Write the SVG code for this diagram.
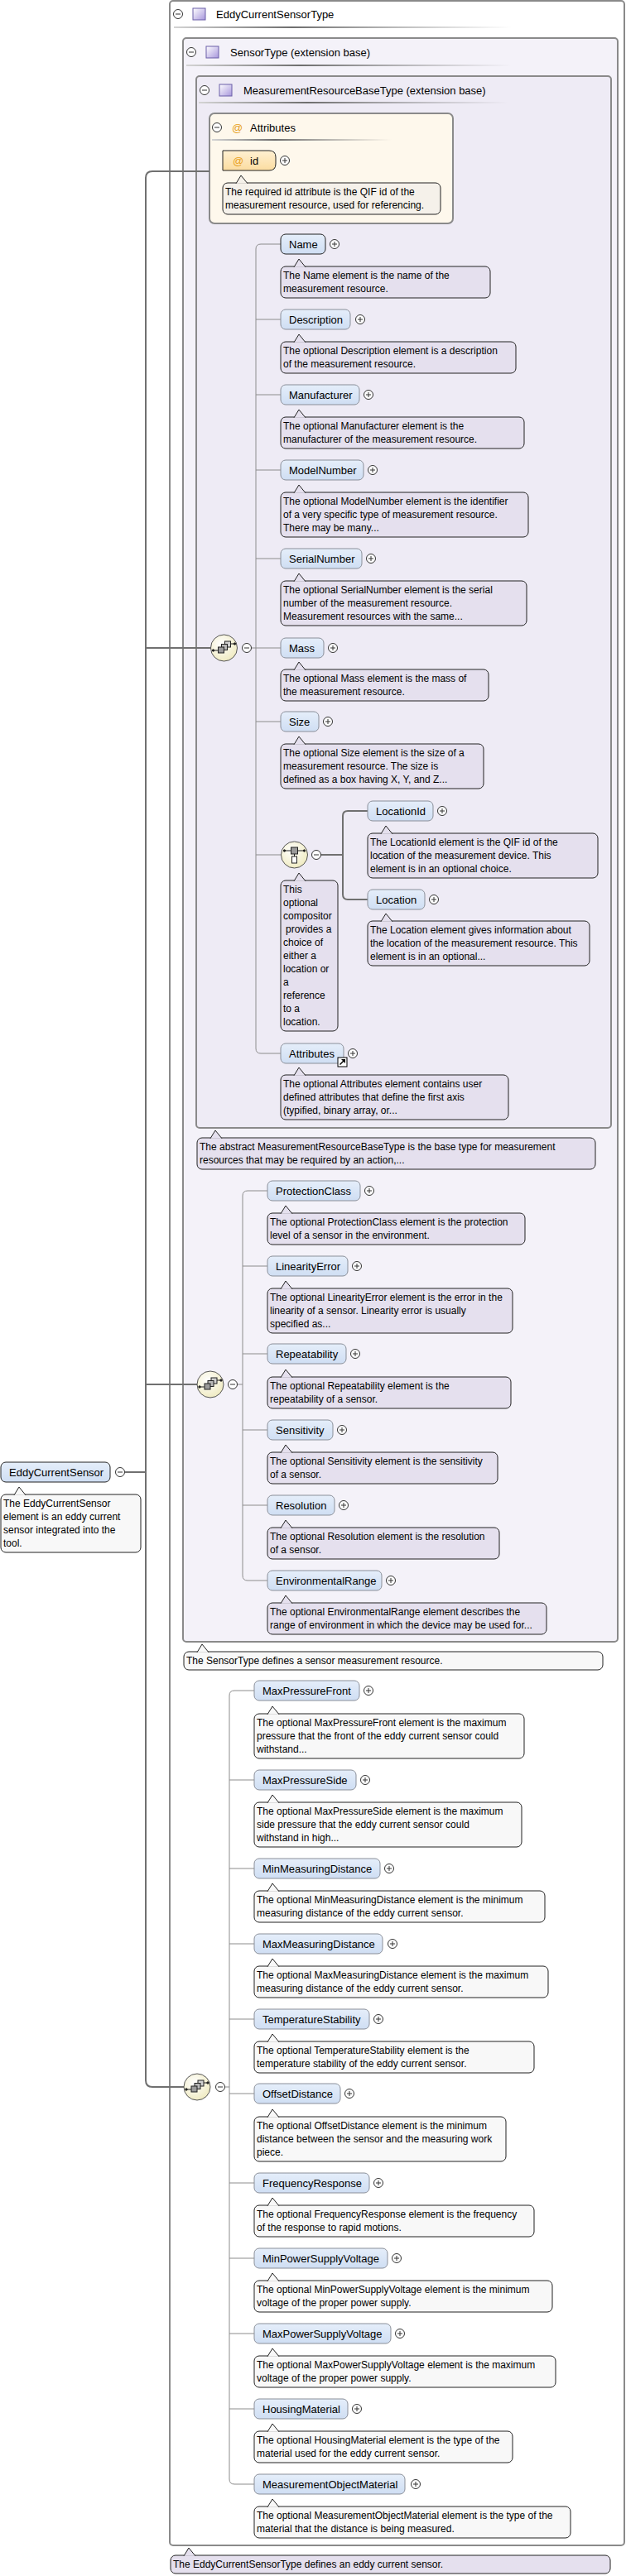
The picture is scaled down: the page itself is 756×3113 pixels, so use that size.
<svg xmlns="http://www.w3.org/2000/svg" width="756" height="3113" viewBox="0 0 756 3113">
<style>
.t{font-family:"Liberation Sans",Arial,sans-serif;font-size:13px;fill:#000;stroke:none}
.ct{font-family:"Liberation Sans",Arial,sans-serif;font-size:12px;fill:#000;stroke:none}
.at{font-family:"Liberation Sans",Arial,sans-serif;font-size:13px;fill:#e8a020;stroke:none}
.node rect{fill:url(#gNode);stroke:#8a8f99;stroke-width:1}
.node.req rect{stroke:#222}
.co{stroke:#222;stroke-width:1}
.L{fill:#e5e0ee}
.W{fill:#f8f8f8}
.C{fill:#f5f1ea}
.box{stroke:#8a8a8a;stroke-width:2}
.cn{fill:none;stroke:#8c8c8c;stroke-width:1}
.cnT{fill:none;stroke:#707070;stroke-width:2}
.comp{fill:url(#gComp);stroke:#555;stroke-width:1}
</style>
<defs>
<linearGradient id="gNode" x1="0" y1="0" x2="0" y2="1"><stop offset="0" stop-color="#e5eefa"/><stop offset="1" stop-color="#cfdef3"/></linearGradient>
<linearGradient id="gAttr" x1="0" y1="0" x2="0" y2="1"><stop offset="0" stop-color="#fff0d2"/><stop offset="1" stop-color="#fbdca0"/></linearGradient>
<linearGradient id="gHdr" x1="0" y1="0" x2="1" y2="0"><stop offset="0" stop-color="#d4d4d4"/><stop offset="0.35" stop-color="#6e6e6e"/><stop offset="1" stop-color="#8a8a8a" stop-opacity="0"/></linearGradient>
<radialGradient id="gComp" cx="0.4" cy="0.35" r="0.7"><stop offset="0" stop-color="#ffffff"/><stop offset="1" stop-color="#efeabf"/></radialGradient>
<linearGradient id="gIcon" x1="0" y1="0" x2="1" y2="1"><stop offset="0" stop-color="#ffffff"/><stop offset="1" stop-color="#a796dc"/></linearGradient>
<g id="plus"><circle r="5.5" fill="#fff" stroke="#333"/><path d="M-3,0H3M0,-3V3" stroke="#333"/></g>
<g id="minus"><circle r="5.5" fill="#fff" stroke="#333"/><path d="M-3,0H3" stroke="#333"/></g>
<path id="tail" d="M16,0.8L22,-9L30,0.8"/>
<rect id="typeIcon" width="15" height="14" fill="url(#gIcon)" stroke="#6b5fa8"/>
<g id="seqSym" stroke="#222" stroke-width="1">
<path d="M-13,3H-7M8,-5H13" fill="none"/>
<circle cx="-13" cy="3" r="1.2" fill="#222"/><circle cx="13" cy="-5" r="1.2" fill="#222"/>
<rect x="1" y="-8" width="7" height="7" fill="#d0d0d0"/>
<rect x="-3" y="-4.5" width="7" height="7" fill="#b8b8b8"/>
<rect x="-7" y="-1" width="7" height="7" fill="#9a9a9a"/>
</g>
<g id="choiceSym" stroke="#222" stroke-width="1">
<path d="M-12,-5H12M0,-1V2" fill="none"/>
<circle cx="-12" cy="-5" r="1.2" fill="#222"/><circle cx="12" cy="-5" r="1.2" fill="#222"/>
<rect x="-4" y="-9" width="8" height="8" fill="#9a9a9a"/>
<rect x="-3" y="2" width="6" height="8" fill="#fff"/>
</g>
</defs>

<!-- type boxes -->
<g id="EddyCurrentSensorType">
<rect class="box" x="205" y="1" width="549" height="3075" rx="4" fill="#ffffff"/>
<use href="#minus" x="215" y="17"/>
<use href="#typeIcon" x="233" y="10"/>
<text class="t" x="261" y="21.5">EddyCurrentSensorType</text>
<rect x="210" y="32" width="408" height="2" fill="url(#gHdr)"/>
</g>
<g id="SensorType">
<rect class="box" x="221" y="46" width="525" height="1938" rx="4" fill="#f4f2f9"/>
<use href="#minus" x="231" y="63"/>
<use href="#typeIcon" x="249" y="56"/>
<text class="t" x="278" y="67.5">SensorType (extension base)</text>
<rect x="225" y="78" width="393" height="2" fill="url(#gHdr)"/>
</g>
<g id="MeasurementResourceBaseType">
<rect class="box" x="237" y="92" width="501" height="1271" rx="4" fill="#eeebf5"/>
<use href="#minus" x="247" y="109"/>
<use href="#typeIcon" x="265" y="102"/>
<text class="t" x="294" y="113.5">MeasurementResourceBaseType (extension base)</text>
<rect x="240" y="123" width="374" height="2" fill="url(#gHdr)"/>
</g>
<g id="AttributesGroup">
<rect class="box" x="253" y="137" width="294" height="133" rx="6" fill="#fef8ec"/>
<use href="#minus" x="262" y="154"/>
<text class="at" x="280" y="158.5">@</text>
<text class="t" x="302" y="158.5">Attributes</text>
<rect x="256" y="168" width="217" height="2" fill="url(#gHdr)"/>
</g>

<!-- connectors -->
<g id="connectors">
<path class="cnT" d="M150.5,1779H176"/>
<path class="cnT" d="M253,207H184Q176,207 176,215V2514Q176,2522 184,2522H222"/>
<path class="cnT" d="M176,783H254.5"/>
<path class="cnT" d="M176,1673H238"/>
<path class="cn" d="M303.5,783H309"/>
<path class="cn" d="M339,295H315Q309,295 309,301V1267Q309,1273 315,1273H339"/>
<path class="cn" d="M309,386H339M309,477H339M309,568H339M309,675H339M309,783H339M309,872H339M309,1033H339"/>
<path class="cnT" d="M387.5,1033H414"/>
<path class="cnT" d="M444,980H420Q414,980 414,986V1081Q414,1087 420,1087H444"/>
<path class="cn" d="M286.5,1673H293"/>
<path class="cn" d="M323,1439H299Q293,1439 293,1445V1904Q293,1910 299,1910H323"/>
<path class="cn" d="M293,1530H323M293,1636H323M293,1728H323M293,1819H323"/>
<path class="cn" d="M271.5,2522H277"/>
<path class="cn" d="M307,2043H283Q277,2043 277,2049V2996Q277,3002 283,3002H307"/>
<path class="cn" d="M277,2151H307M277,2258H307M277,2349H307M277,2440H307M277,2530H307M277,2638H307M277,2729H307M277,2820H307M277,2911H307"/>
</g>

<!-- compositors -->
<g id="seq1"><circle class="comp" cx="270.5" cy="783" r="16"/><use href="#seqSym" x="270.5" y="783"/><use href="#minus" x="298" y="783"/></g>
<g id="choice1"><circle class="comp" cx="355.5" cy="1033" r="16"/><use href="#choiceSym" x="355.5" y="1033"/><use href="#minus" x="382" y="1033"/></g>
<g id="seq2"><circle class="comp" cx="254" cy="1673" r="16"/><use href="#seqSym" x="254" y="1673"/><use href="#minus" x="281" y="1673"/></g>
<g id="seq3"><circle class="comp" cx="238" cy="2522" r="16"/><use href="#seqSym" x="238" y="2522"/><use href="#minus" x="266" y="2522"/></g>

<!-- attribute id -->
<g id="attr-id">
<path d="M269,182H325Q333,182 333,190V198Q333,206 325,206H269Z" fill="url(#gAttr)" stroke="#222"/>
<text class="at" x="281" y="198.5">@</text>
<text class="t" x="302" y="198.5">id</text>
<use href="#plus" x="344" y="194"/>
<g class="co C" transform="translate(269,221)"><rect width="263" height="38" rx="6"/><use href="#tail"/>
<text class="ct" x="3" y="15">The required id attribute is the QIF id of the<tspan x="3" dy="16">measurement resource, used for referencing.</tspan></text></g>
</g>

<!-- root element -->
<g id="EddyCurrentSensor">
<g class="node req"><rect x="1" y="1767" width="132" height="24" rx="6"/></g>
<text class="t" x="11" y="1783.5">EddyCurrentSensor</text>
<use href="#minus" x="145" y="1779"/>
<g class="co W" transform="translate(1,1806)"><rect width="169" height="70" rx="6"/><use href="#tail"/>
<text class="ct" x="3" y="15">The EddyCurrentSensor<tspan x="3" dy="16">element is an eddy current</tspan><tspan x="3" dy="16">sensor integrated into the</tspan><tspan x="3" dy="16">tool.</tspan></text></g>
</g>

<!-- MeasurementResourceBaseType children -->
<g id="Name" transform="translate(339,283)">
<g class="node req"><rect width="54" height="24" rx="6"/></g><text class="t" x="10" y="16.5">Name</text><use href="#plus" x="65" y="12"/>
<g class="co L" transform="translate(0,39)"><rect width="253" height="38" rx="6"/><use href="#tail"/>
<text class="ct" x="3" y="15">The Name element is the name of the<tspan x="3" dy="16">measurement resource.</tspan></text></g>
</g>
<g id="Description" transform="translate(339,374)">
<g class="node"><rect width="84" height="24" rx="6"/></g><text class="t" x="10" y="16.5">Description</text><use href="#plus" x="96" y="12"/>
<g class="co L" transform="translate(0,39)"><rect width="284" height="38" rx="6"/><use href="#tail"/>
<text class="ct" x="3" y="15">The optional Description element is a description<tspan x="3" dy="16">of the measurement resource.</tspan></text></g>
</g>
<g id="Manufacturer" transform="translate(339,465)">
<g class="node"><rect width="95" height="24" rx="6"/></g><text class="t" x="10" y="16.5">Manufacturer</text><use href="#plus" x="106" y="12"/>
<g class="co L" transform="translate(0,39)"><rect width="294" height="38" rx="6"/><use href="#tail"/>
<text class="ct" x="3" y="15">The optional Manufacturer element is the<tspan x="3" dy="16">manufacturer of the measurement resource.</tspan></text></g>
</g>
<g id="ModelNumber" transform="translate(339,556)">
<g class="node"><rect width="100" height="24" rx="6"/></g><text class="t" x="10" y="16.5">ModelNumber</text><use href="#plus" x="111" y="12"/>
<g class="co L" transform="translate(0,39)"><rect width="299" height="54" rx="6"/><use href="#tail"/>
<text class="ct" x="3" y="15">The optional ModelNumber element is the identifier<tspan x="3" dy="16">of a very specific type of measurement resource.</tspan><tspan x="3" dy="16">There may be many...</tspan></text></g>
</g>
<g id="SerialNumber" transform="translate(339,663)">
<g class="node"><rect width="98" height="24" rx="6"/></g><text class="t" x="10" y="16.5">SerialNumber</text><use href="#plus" x="109" y="12"/>
<g class="co L" transform="translate(0,39)"><rect width="297" height="54" rx="6"/><use href="#tail"/>
<text class="ct" x="3" y="15">The optional SerialNumber element is the serial<tspan x="3" dy="16">number of the measurement resource.</tspan><tspan x="3" dy="16">Measurement resources with the same...</tspan></text></g>
</g>
<g id="Mass" transform="translate(339,771)">
<g class="node"><rect width="52" height="24" rx="6"/></g><text class="t" x="10" y="16.5">Mass</text><use href="#plus" x="63" y="12"/>
<g class="co L" transform="translate(0,38)"><rect width="251" height="38" rx="6"/><use href="#tail"/>
<text class="ct" x="3" y="15">The optional Mass element is the mass of<tspan x="3" dy="16">the measurement resource.</tspan></text></g>
</g>
<g id="Size" transform="translate(339,860)">
<g class="node"><rect width="46" height="24" rx="6"/></g><text class="t" x="10" y="16.5">Size</text><use href="#plus" x="57" y="12"/>
<g class="co L" transform="translate(0,39)"><rect width="245" height="54" rx="6"/><use href="#tail"/>
<text class="ct" x="3" y="15">The optional Size element is the size of a<tspan x="3" dy="16">measurement resource. The size is</tspan><tspan x="3" dy="16">defined as a box having X, Y, and Z...</tspan></text></g>
</g>
<g id="choice-annotation">
<g class="co L" transform="translate(339,1064)"><rect width="69" height="182" rx="6"/><use href="#tail"/>
<text class="ct" x="3" y="15">This<tspan x="3" dy="16">optional</tspan><tspan x="3" dy="16">compositor</tspan><tspan x="6" dy="16">provides a</tspan><tspan x="3" dy="16">choice of</tspan><tspan x="3" dy="16">either a</tspan><tspan x="3" dy="16">location or</tspan><tspan x="3" dy="16">a</tspan><tspan x="3" dy="16">reference</tspan><tspan x="3" dy="16">to a</tspan><tspan x="3" dy="16">location.</tspan></text></g>
</g>
<g id="LocationId" transform="translate(444,968)">
<g class="node"><rect width="79" height="24" rx="6"/></g><text class="t" x="10" y="16.5">LocationId</text><use href="#plus" x="90" y="12"/>
<g class="co L" transform="translate(0,39)"><rect width="278" height="54" rx="6"/><use href="#tail"/>
<text class="ct" x="3" y="15">The LocationId element is the QIF id of the<tspan x="3" dy="16">location of the measurement device. This</tspan><tspan x="3" dy="16">element is in an optional choice.</tspan></text></g>
</g>
<g id="Location" transform="translate(444,1075)">
<g class="node"><rect width="69" height="24" rx="6"/></g><text class="t" x="10" y="16.5">Location</text><use href="#plus" x="80" y="12"/>
<g class="co L" transform="translate(0,38)"><rect width="268" height="54" rx="6"/><use href="#tail"/>
<text class="ct" x="3" y="15">The Location element gives information about<tspan x="3" dy="16">the location of the measurement resource. This</tspan><tspan x="3" dy="16">element is in an optional...</tspan></text></g>
</g>
<g id="Attributes" transform="translate(339,1261)">
<g class="node"><rect width="76" height="24" rx="6"/></g><text class="t" x="10" y="16.5">Attributes</text><use href="#plus" x="87" y="12"/>
<rect x="69" y="17" width="11" height="11" fill="#fff" stroke="#000"/>
<path d="M71.5,25.5L77,20" stroke="#000" stroke-width="1.5"/><path d="M73,19H78V24Z" fill="#000"/>
<g class="co L" transform="translate(0,38)"><rect width="275" height="54" rx="6"/><use href="#tail"/>
<text class="ct" x="3" y="15">The optional Attributes element contains user<tspan x="3" dy="16">defined attributes that define the first axis</tspan><tspan x="3" dy="16">(typified, binary array, or...</tspan></text></g>
</g>
<g id="MRBT-annotation">
<g class="co L" transform="translate(238,1375)"><rect width="481" height="38" rx="6"/><use href="#tail"/>
<text class="ct" x="3" y="15">The abstract MeasurementResourceBaseType is the base type for measurement<tspan x="3" dy="16">resources that may be required by an action,...</tspan></text></g>
</g>

<!-- SensorType children -->
<g id="ProtectionClass" transform="translate(323,1427)">
<g class="node"><rect width="112" height="24" rx="6"/></g><text class="t" x="10" y="16.5">ProtectionClass</text><use href="#plus" x="123" y="12"/>
<g class="co L" transform="translate(0,39)"><rect width="311" height="38" rx="6"/><use href="#tail"/>
<text class="ct" x="3" y="15">The optional ProtectionClass element is the protection<tspan x="3" dy="16">level of a sensor in the environment.</tspan></text></g>
</g>
<g id="LinearityError" transform="translate(323,1518)">
<g class="node"><rect width="97" height="24" rx="6"/></g><text class="t" x="10" y="16.5">LinearityError</text><use href="#plus" x="108" y="12"/>
<g class="co L" transform="translate(0,39)"><rect width="296" height="54" rx="6"/><use href="#tail"/>
<text class="ct" x="3" y="15">The optional LinearityError element is the error in the<tspan x="3" dy="16">linearity of a sensor. Linearity error is usually</tspan><tspan x="3" dy="16">specified as...</tspan></text></g>
</g>
<g id="Repeatability" transform="translate(323,1624)">
<g class="node"><rect width="95" height="24" rx="6"/></g><text class="t" x="10" y="16.5">Repeatability</text><use href="#plus" x="106" y="12"/>
<g class="co L" transform="translate(0,40)"><rect width="294" height="38" rx="6"/><use href="#tail"/>
<text class="ct" x="3" y="15">The optional Repeatability element is the<tspan x="3" dy="16">repeatability of a sensor.</tspan></text></g>
</g>
<g id="Sensitivity" transform="translate(323,1716)">
<g class="node"><rect width="79" height="24" rx="6"/></g><text class="t" x="10" y="16.5">Sensitivity</text><use href="#plus" x="90" y="12"/>
<g class="co L" transform="translate(0,39)"><rect width="278" height="38" rx="6"/><use href="#tail"/>
<text class="ct" x="3" y="15">The optional Sensitivity element is the sensitivity<tspan x="3" dy="16">of a sensor.</tspan></text></g>
</g>
<g id="Resolution" transform="translate(323,1807)">
<g class="node"><rect width="81" height="24" rx="6"/></g><text class="t" x="10" y="16.5">Resolution</text><use href="#plus" x="92" y="12"/>
<g class="co L" transform="translate(0,39)"><rect width="280" height="38" rx="6"/><use href="#tail"/>
<text class="ct" x="3" y="15">The optional Resolution element is the resolution<tspan x="3" dy="16">of a sensor.</tspan></text></g>
</g>
<g id="EnvironmentalRange" transform="translate(323,1898)">
<g class="node"><rect width="138" height="24" rx="6"/></g><text class="t" x="10" y="16.5">EnvironmentalRange</text><use href="#plus" x="149" y="12"/>
<g class="co L" transform="translate(0,39)"><rect width="337" height="38" rx="6"/><use href="#tail"/>
<text class="ct" x="3" y="15">The optional EnvironmentalRange element describes the<tspan x="3" dy="16">range of environment in which the device may be used for...</tspan></text></g>
</g>
<g id="SensorType-annotation">
<g class="co W" transform="translate(222,1996)"><rect width="506" height="22" rx="6"/><use href="#tail"/>
<text class="ct" x="3" y="15">The SensorType defines a sensor measurement resource.</text></g>
</g>

<!-- EddyCurrentSensorType children -->
<g id="MaxPressureFront" transform="translate(307,2031)">
<g class="node"><rect width="127" height="24" rx="6"/></g><text class="t" x="10" y="16.5">MaxPressureFront</text><use href="#plus" x="138" y="12"/>
<g class="co W" transform="translate(0,40)"><rect width="326" height="54" rx="6"/><use href="#tail"/>
<text class="ct" x="3" y="15">The optional MaxPressureFront element is the maximum<tspan x="3" dy="16">pressure that the front of the eddy current sensor could</tspan><tspan x="3" dy="16">withstand...</tspan></text></g>
</g>
<g id="MaxPressureSide" transform="translate(307,2139)">
<g class="node"><rect width="123" height="24" rx="6"/></g><text class="t" x="10" y="16.5">MaxPressureSide</text><use href="#plus" x="134" y="12"/>
<g class="co W" transform="translate(0,39)"><rect width="323" height="54" rx="6"/><use href="#tail"/>
<text class="ct" x="3" y="15">The optional MaxPressureSide element is the maximum<tspan x="3" dy="16">side pressure that the eddy current sensor could</tspan><tspan x="3" dy="16">withstand in high...</tspan></text></g>
</g>
<g id="MinMeasuringDistance" transform="translate(307,2246)">
<g class="node"><rect width="152" height="24" rx="6"/></g><text class="t" x="10" y="16.5">MinMeasuringDistance</text><use href="#plus" x="163" y="12"/>
<g class="co W" transform="translate(0,39)"><rect width="351" height="38" rx="6"/><use href="#tail"/>
<text class="ct" x="3" y="15">The optional MinMeasuringDistance element is the minimum<tspan x="3" dy="16">measuring distance of the eddy current sensor.</tspan></text></g>
</g>
<g id="MaxMeasuringDistance" transform="translate(307,2337)">
<g class="node"><rect width="155" height="24" rx="6"/></g><text class="t" x="10" y="16.5">MaxMeasuringDistance</text><use href="#plus" x="167" y="12"/>
<g class="co W" transform="translate(0,39)"><rect width="355" height="38" rx="6"/><use href="#tail"/>
<text class="ct" x="3" y="15">The optional MaxMeasuringDistance element is the maximum<tspan x="3" dy="16">measuring distance of the eddy current sensor.</tspan></text></g>
</g>
<g id="TemperatureStability" transform="translate(307,2428)">
<g class="node"><rect width="139" height="24" rx="6"/></g><text class="t" x="10" y="16.5">TemperatureStability</text><use href="#plus" x="150" y="12"/>
<g class="co W" transform="translate(0,39)"><rect width="338" height="38" rx="6"/><use href="#tail"/>
<text class="ct" x="3" y="15">The optional TemperatureStability element is the<tspan x="3" dy="16">temperature stability of the eddy current sensor.</tspan></text></g>
</g>
<g id="OffsetDistance" transform="translate(307,2518)">
<g class="node"><rect width="104" height="24" rx="6"/></g><text class="t" x="10" y="16.5">OffsetDistance</text><use href="#plus" x="115" y="12"/>
<g class="co W" transform="translate(0,40)"><rect width="304" height="54" rx="6"/><use href="#tail"/>
<text class="ct" x="3" y="15">The optional OffsetDistance element is the minimum<tspan x="3" dy="16">distance between the sensor and the measuring work</tspan><tspan x="3" dy="16">piece.</tspan></text></g>
</g>
<g id="FrequencyResponse" transform="translate(307,2626)">
<g class="node"><rect width="139" height="24" rx="6"/></g><text class="t" x="10" y="16.5">FrequencyResponse</text><use href="#plus" x="150" y="12"/>
<g class="co W" transform="translate(0,39)"><rect width="338" height="38" rx="6"/><use href="#tail"/>
<text class="ct" x="3" y="15">The optional FrequencyResponse element is the frequency<tspan x="3" dy="16">of the response to rapid motions.</tspan></text></g>
</g>
<g id="MinPowerSupplyVoltage" transform="translate(307,2717)">
<g class="node"><rect width="161" height="24" rx="6"/></g><text class="t" x="10" y="16.5">MinPowerSupplyVoltage</text><use href="#plus" x="172" y="12"/>
<g class="co W" transform="translate(0,39)"><rect width="360" height="38" rx="6"/><use href="#tail"/>
<text class="ct" x="3" y="15">The optional MinPowerSupplyVoltage element is the minimum<tspan x="3" dy="16">voltage of the proper power supply.</tspan></text></g>
</g>
<g id="MaxPowerSupplyVoltage" transform="translate(307,2808)">
<g class="node"><rect width="165" height="24" rx="6"/></g><text class="t" x="10" y="16.5">MaxPowerSupplyVoltage</text><use href="#plus" x="176" y="12"/>
<g class="co W" transform="translate(0,39)"><rect width="364" height="38" rx="6"/><use href="#tail"/>
<text class="ct" x="3" y="15">The optional MaxPowerSupplyVoltage element is the maximum<tspan x="3" dy="16">voltage of the proper power supply.</tspan></text></g>
</g>
<g id="HousingMaterial" transform="translate(307,2899)">
<g class="node"><rect width="113" height="24" rx="6"/></g><text class="t" x="10" y="16.5">HousingMaterial</text><use href="#plus" x="124" y="12"/>
<g class="co W" transform="translate(0,39)"><rect width="312" height="38" rx="6"/><use href="#tail"/>
<text class="ct" x="3" y="15">The optional HousingMaterial element is the type of the<tspan x="3" dy="16">material used for the eddy current sensor.</tspan></text></g>
</g>
<g id="MeasurementObjectMaterial" transform="translate(307,2990)">
<g class="node"><rect width="182" height="24" rx="6"/></g><text class="t" x="10" y="16.5">MeasurementObjectMaterial</text><use href="#plus" x="195" y="12"/>
<g class="co W" transform="translate(0,39)"><rect width="382" height="38" rx="6"/><use href="#tail"/>
<text class="ct" x="3" y="15">The optional MeasurementObjectMaterial element is the type of the<tspan x="3" dy="16">material that the distance is being measured.</tspan></text></g>
</g>
<g id="EddyCurrentSensorType-annotation">
<g class="co L" transform="translate(206,3088)"><rect width="531" height="22" rx="6"/><use href="#tail"/>
<text class="ct" x="3" y="15">The EddyCurrentSensorType defines an eddy current sensor.</text></g>
</g>
</svg>
